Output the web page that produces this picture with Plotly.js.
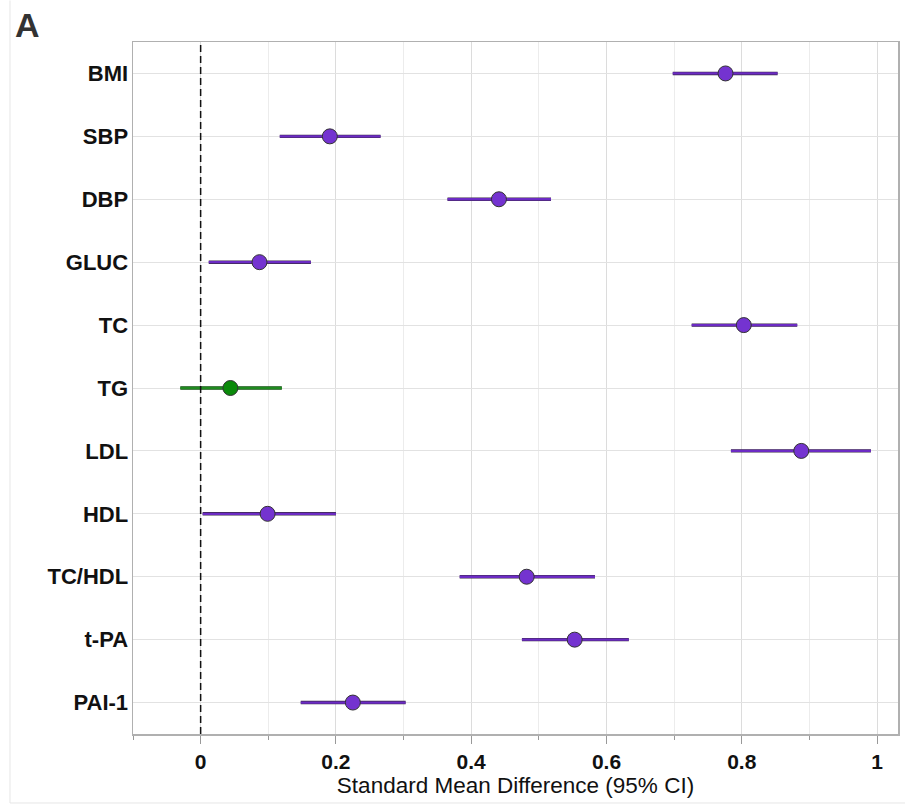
<!DOCTYPE html>
<html><head><meta charset="utf-8">
<script src="https://cdn.plot.ly/plotly-3.0.1.min.js"></script>
<style>html,body{margin:0;padding:0;background:#fff}#chart{width:905px;height:805px}</style>
</head><body><div id="chart"></div>
<script>
const categories = ["BMI","SBP","DBP","GLUC","TC","TG","LDL","HDL","TC/HDL","t-PA","PAI-1"];
const estimate = [0.776,0.191,0.441,0.087,0.803,0.044,0.888,0.099,0.482,0.553,0.225];
const lower    = [0.698,0.117,0.365,0.012,0.726,-0.030,0.784,0.003,0.383,0.475,0.148];
const upper    = [0.853,0.266,0.518,0.163,0.882,0.120,0.991,0.200,0.583,0.633,0.303];
const significant = [true,true,true,true,true,false,true,true,true,true,true];
const xTickVals = [0,0.2,0.4,0.6,0.8,1];
const xTickText = ["0","0.2","0.4","0.6","0.8","1"];

const FONT = '"Liberation Sans", Arial, Helvetica, sans-serif';
const groups = [
  {sig:true,  line:'#6c2bc4', fill:'#7433d0', edge:'#3a2a4a'},
  {sig:false, line:'#1f8a1f', fill:'#0a8a0a', edge:'#1f4a1f'}
];
const traces = [];
groups.forEach(g => {
  const sx = [], sy = [], px = [], py = [];
  categories.forEach((c, i) => {
    if (significant[i] !== g.sig) return;
    sx.push(lower[i], upper[i], null);
    sy.push(c, c, null);
    px.push(estimate[i]); py.push(c);
  });
  traces.push({type:'scatter', mode:'lines', x:sx, y:sy, line:{color:g.edge, width:3.4}, hoverinfo:'skip', showlegend:false, connectgaps:false});
  traces.push({type:'scatter', mode:'lines', x:sx, y:sy, line:{color:g.line, width:2.3}, hoverinfo:'skip', showlegend:false, connectgaps:false});
  traces.push({type:'scatter', mode:'markers', x:px, y:py, marker:{size:15, color:g.fill, line:{color:'#333', width:1}}, showlegend:false});
});

const layout = {
  width:905, height:805,
  margin:{l:133, r:7, t:42, b:71, pad:0},
  paper_bgcolor:'#fff', plot_bgcolor:'#fff',
  font:{family:FONT, color:'#111'},
  xaxis:{
    range:[-0.1, 1.031], tickvals:xTickVals, ticktext:xTickText,
    ticks:'outside', ticklen:8, tickwidth:1, tickcolor:'#999',
    tickfont:{family:FONT, size:21, weight:'bold', color:'#111'},
    showgrid:true, gridcolor:'#dcdcdc', gridwidth:1,
    minor:{dtick:0.1, tick0:0, showgrid:true, gridcolor:'#ececec', ticks:'outside', ticklen:4, tickcolor:'#999'},
    showline:true, linecolor:'#b0b0b0', linewidth:1.5, mirror:true, zeroline:false,
    title:{text:'Standard Mean Difference (95% CI)', font:{family:FONT, size:22.5, color:'#111'}, standoff:5}
  },
  yaxis:{
    type:'category', categoryarray:categories, categoryorder:'array',
    range:[10.5, -0.5],
    tickfont:{family:FONT, size:22, weight:'bold', color:'#111'},
    ticks:'', showgrid:true, gridcolor:'#e2e2e2', gridwidth:1,
    showline:true, linecolor:'#b0b0b0', linewidth:1.5, mirror:true, zeroline:false,
    ticklabelstandoff:-1
  },
  shapes:[
    {type:'line', xref:'x', yref:'paper', x0:0, x1:0, y0:0, y1:1, line:{color:'#111', width:1.5, dash:'7px,4px'}},
    {type:'line', xref:'paper', yref:'paper', x0:-0.1608, x1:-0.1608, y0:-0.0997, y1:1.06, line:{color:'#e6e6e6', width:1}},
    {type:'line', xref:'paper', yref:'paper', x0:-0.1608, x1:1.01, y0:-0.0997, y1:-0.0997, line:{color:'#e6e6e6', width:1}}
  ],
  annotations:[
    {text:'<b>A</b>', xref:'paper', yref:'paper', x:-0.156, y:1.054, xanchor:'left', yanchor:'top', showarrow:false, font:{family:FONT, size:34, color:'#333'}, borderpad:0}
  ]
};
Plotly.newPlot('chart', traces, layout, {displayModeBar:false, staticPlot:true});
</script></body></html>
